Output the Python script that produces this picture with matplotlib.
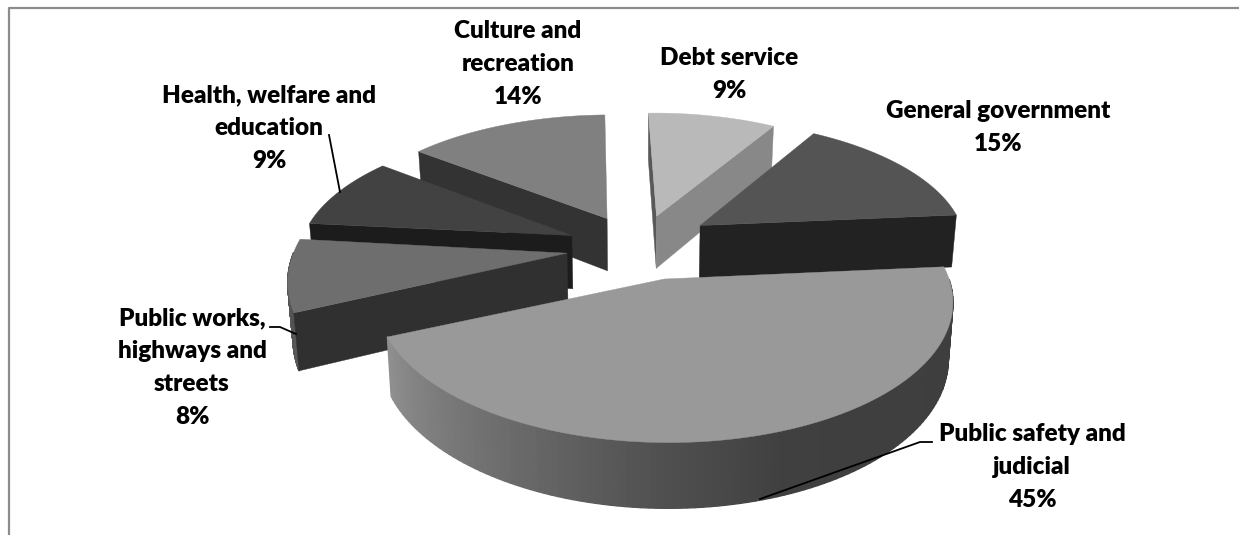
# encoding='utf-8'
import numpy as np
import matplotlib
matplotlib.use('Agg')
import matplotlib.pyplot as plt
from matplotlib.collections import PolyCollection

# share of expenditure, clockwise from twelve o'clock
categories = ['Debt service', 'General government', 'Public safety and\njudicial',
              'Public works,\nhighways and\nstreets', 'Health, welfare and\neducation',
              'Culture and\nrecreation']
values = [9, 15, 45, 8, 9, 14]

top_colors = ['#b9b9b9', '#545454', '#999999', '#6e6e6e', '#424242', '#808080']
start_colors = ['#585858', '#222222', '#555555', '#303030', '#1c1c1c', '#333333']
end_colors = ['#888888', '#222222', '#555555', '#303030', '#1c1c1c', '#333333']
# grey level of the outer wall at fractions of the way round each slice
wall_pos = [[0, 1], [0, 1], [0, 0.46, 0.59, 0.67, 1], [0, 1], [0, 1], [0, 1]]
wall_grey = [[0.6, 0.6], [0.2, 0.2], [0.24, 0.25, 0.31, 0.36, 0.56], [0.36, 0.3], [0.2, 0.2], [0.33, 0.33]]

label_pos = [(729, 58), (998, 111), (1032, 434), (192, 318), (269, 95), (518, 31)]
# small per-slice adjustments of the exploded position (pixels) and radius
shift_x = [-0.5, 0.5, 6.5, 1, 0, 0]
shift_y = [0, -5, -3, 0, 0, 0]
radius_x = [0.985, 0.985, 1.012, 1, 1, 1]
radius_y = [1, 1, 1.03, 1.12, 1, 1]

# pie geometry in pixels
CX, CY = 639, 248
RX, RY = 272, 126
EXPLODE = 0.27
PERSP = 0.141
THICK = 54
START_ANGLE = -1.5


def project(u, v, lower=False):
    # perspective view of the disc plane, far side (v > 0) gets smaller
    s = 1 / (1 + PERSP * v)
    x = RX * u * s
    y = -RY * v * s
    if lower:
        x = x * 0.985
        y = y + THICK * s
    return CX + x, CY + y


def quad(ax, pts, color, zorder):
    ax.fill([p[0] for p in pts], [p[1] for p in pts], color=color, lw=0.3, zorder=zorder)


def draw_slice(ax, start, end, order, i):
    mid = np.radians((start + end) / 2)
    du, dv = EXPLODE * np.sin(mid), EXPLODE * np.cos(mid)
    du = du + shift_x[i] / RX
    dv = dv - shift_y[i] / RY
    th = np.radians(np.linspace(start, end, 121))
    u = du + radius_x[i] * np.sin(th)
    v = dv + radius_y[i] * np.cos(th)

    # outer wall as thin strips so the shade runs round the slice, front part only
    polys = []
    cols = []
    for k in range(len(th) - 1):
        if np.cos(th[k]) > 0:
            continue
        polys.append([project(u[k], v[k]), project(u[k + 1], v[k + 1]),
                      project(u[k + 1], v[k + 1], True), project(u[k], v[k], True)])
        g = np.interp(k / (len(th) - 2), wall_pos[i], wall_grey[i])
        cols.append((g, g, g))
    if polys:
        ax.add_collection(PolyCollection(polys, facecolors=cols, edgecolors=cols, lw=1, zorder=order))

    # the cut faces that turn towards the viewer
    if np.sin(th[0]) < 0:
        quad(ax, [project(du, dv), project(u[0], v[0]), project(u[0], v[0], True), project(du, dv, True)],
             start_colors[i], order + 0.1)
    if np.sin(th[-1]) > 0:
        quad(ax, [project(du, dv), project(u[-1], v[-1]), project(u[-1], v[-1], True), project(du, dv, True)],
             end_colors[i], order + 0.2)

    # top surface
    xs, ys = project(u, v)
    ax0, ay0 = project(du, dv)
    quad(ax, list(zip(np.r_[ax0, xs], np.r_[ay0, ys])), top_colors[i], order + 0.5)


def main():
    plt.rcParams['font.family'] = ['Lato', 'DejaVu Sans']
    fig = plt.figure(figsize=(12.39, 5.35), dpi=100)
    ax = fig.add_axes([0, 0, 1, 1])
    ax.set_xlim(0, 1239)
    ax.set_ylim(535, 0)
    ax.axis('off')

    # chart frame, open at the bottom and on the right
    ax.plot([8.5, 8.5, 1239], [535, 7.5, 7.5], color='#8c8c8c', lw=1.6, zorder=1)

    angles = START_ANGLE + np.r_[0, np.cumsum(values)] * 3.6
    # back slices first, the large front slice last
    draw_order = [0, 5, 1, 4, 3, 2]
    for n, i in enumerate(draw_order):
        draw_slice(ax, angles[i], angles[i + 1], 2 + n, i)

    # leader lines
    leaders = [[(329, 135), (340, 192)],
               [(270, 327), (280, 327), (296, 334)],
               [(932, 442), (920, 442), (760, 499)]]
    for pts in leaders:
        ax.plot([p[0] for p in pts], [p[1] for p in pts], color='black', lw=1.3, zorder=20)

    for name, val, (x, y) in zip(categories, values, label_pos):
        ax.text(x, y - 11, '{}\n{}%'.format(name, val), ha='center', va='top', fontsize=17.5,
                fontweight='heavy', linespacing=1.62, color='black', zorder=21)

    fig.savefig('out.png', dpi=100)


if __name__ == '__main__':
    main()
